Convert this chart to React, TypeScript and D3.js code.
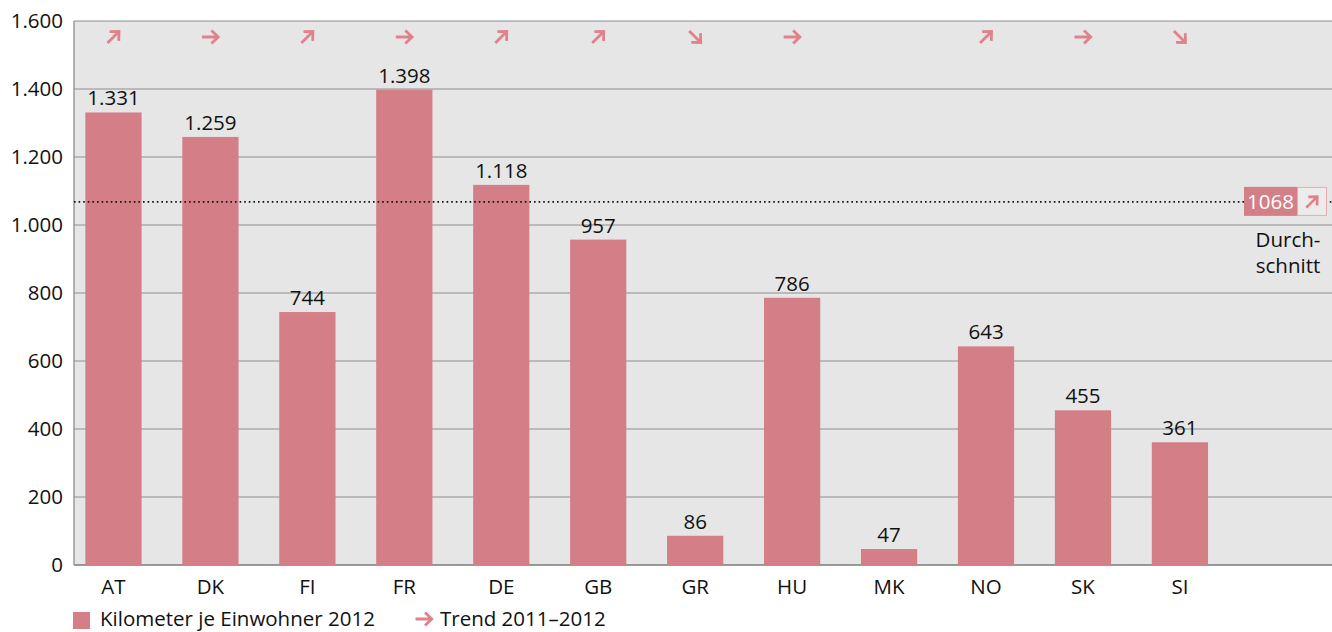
import React from "react";
import * as d3 from "d3";

const countries = ["AT", "DK", "FI", "FR", "DE", "GB", "GR", "HU", "MK", "NO", "SK", "SI"];
const kmPerResident = [1331, 1259, 744, 1398, 1118, 957, 86, 786, 47, 643, 455, 361];
const trends = ["up", "flat", "up", "flat", "up", "up", "down", "flat", "", "up", "flat", "down"];
const yTicks = [0, 200, 400, 600, 800, 1000, 1200, 1400, 1600];
const average = 1068;
const averageTrend = "up";

const width = 1332;
const height = 632;
const margin = { top: 21, right: 0, bottom: 67, left: 74 };

const barColor = "#d47e87";
const arrowColor = "#e0828c";
const font = "'Open Sans', sans-serif";
const fs = 20.5;

const fmt = (v: number) => (v >= 1000 ? d3.format(",")(v).replace(",", ".") : String(v));

const angle: Record<string, number> = { up: -45, flat: 0, down: 45 };

const Arrow = ({ x, y, dir, size = 1, color = arrowColor }: any) => (
  <g transform={`translate(${x},${y}) rotate(${angle[dir]}) scale(${size})`}>
    <path
      d="M-8.5,0 L7.5,0 M1,-6.5 L7.8,0 L1,6.5"
      fill="none"
      stroke={color}
      strokeWidth={2.8}
      strokeLinecap="butt"
      strokeLinejoin="miter"
    />
  </g>
);

export default function App() {
  const x = d3
    .scaleBand()
    .domain(countries)
    .range([65, 1228.4])
    .paddingInner(0.42)
    .paddingOuter(0.21);

  const y = d3
    .scaleLinear()
    .domain([0, 1600])
    .range([height - margin.bottom, margin.top]);

  const avgY = y(average);

  return (
    <svg
      width={width}
      height={height}
      style={{ position: "absolute", left: 0, top: 0 }}
      fontFamily={font}
    >
      <rect
        x={margin.left}
        y={y(1600)}
        width={width - margin.left}
        height={y(0) - y(1600)}
        fill="#e6e6e6"
      />
      {yTicks.map((t) => (
        <g key={t}>
          <line
            x1={margin.left}
            x2={width}
            y1={y(t)}
            y2={y(t)}
            stroke={t === 0 ? "#7a7a7a" : "#8e8e8e"}
            strokeWidth={t === 0 ? 1.5 : 1}
          />
          <text x={63} y={y(t)} dy="0.36em" textAnchor="end" fontSize={fs} fill="#111">
            {fmt(t)}
          </text>
        </g>
      ))}
      <line x1={margin.left} x2={margin.left} y1={y(1600)} y2={y(0)} stroke="#9a9a9a" strokeWidth={1.5} />

      {countries.map((c, i) => {
        const bx = x(c)!;
        const cx = bx + x.bandwidth() / 2;
        const v = kmPerResident[i];
        return (
          <g key={c}>
            <rect x={bx} y={y(v)} width={x.bandwidth()} height={y(0) - y(v)} fill={barColor} />
            <text x={cx} y={y(v) - 7} textAnchor="middle" fontSize={fs} fill="#111">
              {fmt(v)}
            </text>
            <text x={cx} y={y(0) + 29} textAnchor="middle" fontSize={fs} fill="#111">
              {c}
            </text>
            {trends[i] && <Arrow x={cx} y={37} dir={trends[i]} />}
          </g>
        );
      })}

      <line
        x1={margin.left}
        x2={width}
        y1={avgY}
        y2={avgY}
        stroke="#111"
        strokeWidth={1.6}
        strokeDasharray="1.6,3"
      />
      <rect x={1244} y={avgY - 15} width={53} height={29} fill={barColor} />
      <text x={1270.5} y={avgY} dy="0.36em" textAnchor="middle" fontSize={fs} fill="#fff">
        {average}
      </text>
      <rect x={1297.5} y={avgY - 14.5} width={29} height={28} fill="#ececec" stroke="#e9aab1" strokeWidth={1} />
      <Arrow x={1312} y={avgY} dir={averageTrend} size={0.95} />
      <text x={1288} y={247} textAnchor="middle" fontSize={fs} fill="#111">
        Durch-
      </text>
      <text x={1288} y={273} textAnchor="middle" fontSize={fs} fill="#111">
        schnitt
      </text>

      <rect x={73} y={612} width={17} height={17} fill={barColor} />
      <text x={100} y={626} fontSize={fs} fill="#111">
        Kilometer je Einwohner 2012
      </text>
      <Arrow x={424} y={619} dir="flat" />
      <text x={440} y={626} fontSize={fs} fill="#111">
        Trend 2011–2012
      </text>
    </svg>
  );
}
